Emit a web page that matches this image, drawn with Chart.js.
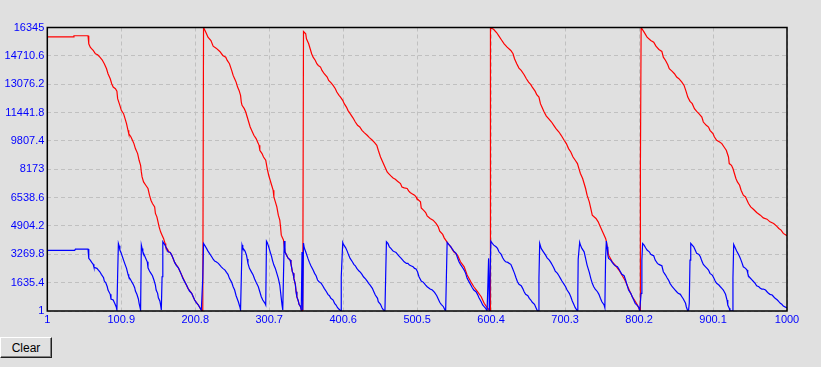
<!DOCTYPE html>
<html>
<head>
<meta charset="utf-8">
<script src="https://cdn.jsdelivr.net/npm/chart.js@4.4.1/dist/chart.umd.min.js"></script>
<style>
  html, body { margin: 0; padding: 0; background: #e0e0e0; width: 821px; height: 367px; overflow: hidden; }
  #wrap { position: absolute; left: 0; top: 0; width: 821px; height: 335px; }
  #clear {
    position: absolute; left: 0; top: 337px; width: 52px; height: 21px;
    margin: 0; padding: 0; background: #e0e0e0; color: #000;
    font: 12px "Liberation Sans", Arial, sans-serif;
    border-top: 1px solid #fff; border-left: 1px solid #fff;
    border-right: 1px solid #202020; border-bottom: 1px solid #202020;
    box-shadow: inset -1px -1px 0 #808080;
  }
</style>
</head>
<body>
<div id="wrap"><canvas id="plot" width="821" height="335"></canvas></div>
<button id="clear">Clear</button>
<script>
// tick labels as shown on the axes
const xTickLabels = ['1', '100.9', '200.8', '300.7', '400.6', '500.5', '600.4', '700.3', '800.2', '900.1', '1000'];
const yTickLabels = ['1', '1635.4', '3269.8', '4904.2', '6538.6', '8173', '9807.4', '11441.8', '13076.2', '14710.6', '16345'];

// red series [x, y]
const redLine = [
  [1,15810],[36,15810],[37,15868],[56,15868],[57,15407],[59,15211],[61,15118],[63,15021],[66,14831],[69,14773],
  [72,14636],[75,14486],[78,14256],[81,13968],[83,13680],[86,13393],[88,13105],[90,12909],[93,12817],[95,12679],
  [96,12242],[99,11856],[101,11568],[104,11378],[106,11091],[108,10803],[110,10417],[111,10228],[114,10032],[116,9842],
  [118,9652],[120,9364],[123,9077],[125,8691],[127,8403],[128,8018],[129,7730],[131,7442],[134,7252],[137,7062],
  [139,6677],[141,6389],[143,6199],[146,6003],[147,5624],[149,5428],[150,5238],[152,4852],[154,4565],[156,4375],
  [158,4185],[160,3897],[161,3701],[164,3512],[165,3414],[167,3379],
  [169,3224],[173,2804],[178,2493],[182,2113],[187,1653],[191,1307],[196,1020],[200,634],[205,346],[209,59],[211,1],
  [212,16345],[214,16172],[216,15983],[218,15787],[222,15597],[225,15269],[229,15154],[234,14964],[238,14734],[242,14636],
  [244,14446],[247,14256],[250,13871],[252,13583],[254,13393],[256,13197],[258,12909],[260,12720],[262,12432],[263,12046],
  [264,11856],[267,11666],[269,11471],[271,11183],[273,10895],[275,10607],[278,10320],[280,10130],[283,9940],[285,9744],
  [287,9554],[288,9267],[291,9077],[293,8881],[296,8691],[298,8213],[300,7828],[302,7540],[304,7252],[306,6965],
  [307,6579],[309,6291],[311,6003],[313,5526],[315,5238],[316,4852],[317,4375],[319,4185],[320,4087],
  [322,3414],[324,3224],[326,3068],[329,2936],[330,2746],[332,2263],[333,2171],[334,1883],[336,1538],[337,1112],
  [338,824],[340,577],[341,387],[343,248],[344,59],[346,1],
  [347,16115],[350,15983],[351,15695],[354,15407],[356,15119],[358,14831],[360,14636],[363,14446],[365,14256],[367,14158],
  [370,14061],[372,13871],[375,13680],[379,13485],[381,13295],[384,13163],[387,13007],[390,12817],[392,12622],[395,12432],
  [397,12334],[400,12144],[402,11954],[405,11758],[407,11569],[410,11378],[414,11125],[417,10895],[420,10705],[423,10608],
  [426,10418],[429,10285],[433,10130],[436,9997],[440,9842],[443,9710],[446,9554],[448,9267],[451,8881],[454,8593],
  [457,8306],[460,8018],[462,7926],[465,7787],[468,7672],[471,7598],[474,7483],[478,7350],[480,7154],[483,7097],
  [487,7062],[489,6924],[491,6832],[493,6775],[497,6677],[499,6579],[500,6487],[505,6291],[506,5946],[509,5814],
  [512,5681],[514,5486],[518,5336],[522,5238],[526,5048],[529,4852],[531,4605],[535,4415],[537,4219],[540,4030],
  [542,3897],[546,3701],[550,3414],[555,3224],[559,2838],[564,2550],[568,2073],[573,1687],[577,1399],[582,1112],
  [587,824],[591,444],[595,191],[598,59],[599,1],[599,8213],
  [600,16345],[604,16230],[608,16040],[611,15845],[614,15655],[618,15407],[622,15211],[627,15021],[630,14831],[632,14544],
  [635,14256],[638,14003],[641,13871],[645,13623],[648,13393],[651,13197],[654,13047],[656,12909],[660,12662],[662,12472],
  [665,12334],[667,11954],[669,11758],[672,11471],[675,11241],[678,11091],[682,10895],[685,10705],[688,10515],[692,10320],
  [695,10130],[699,9842],[702,9652],[705,9364],[708,9168],[711,8881],[714,8691],[717,8501],[719,8213],[721,7926],
  [724,7638],[726,7350],[728,7062],[730,6677],[733,6291],[735,5911],[737,5526],[742,5336],[745,5140],[747,4950],
  [750,4663],[752,4473],[755,4185],[756,4030],[759,3224],[764,2838],[768,2648],[773,2361],[777,2073],[781,1785],
  [784,1497],[788,1112],[791,824],[794,634],[798,346],[800,156],[801,59],[802,1],[802,8213],
  [803,16345],[807,16075],[811,15787],[816,15597],[820,15499],[823,15269],[827,15079],[831,14964],[833,14636],[836,14446],
  [839,14198],[841,13968],[845,13813],[848,13680],[851,13485],[854,13393],[858,13197],[861,13007],[864,12622],[866,12334],
  [869,12086],[872,11954],[875,11666],[878,11511],[881,11378],[885,11183],[887,10895],[891,10705],[894,10608],[896,10418],
  [900,10228],[902,10032],[905,9842],[909,9744],[912,9652],[915,9457],[918,9267],[921,8881],[922,8501],[925,8403],
  [927,8213],[929,7926],[931,7638],[933,7442],[936,7252],[938,6965],[941,6677],[944,6579],[946,6389],[948,6199],
  [951,6003],[955,5854],[959,5681],[964,5526],[968,5370],[973,5296],[977,5140],[982,5048],[986,4893],[989,4760],
  [992,4663],[995,4473],[1000,4334]
];

// blue series [x, y]
const blueLine = [
  [1,3494],[38,3494],[39,3569],[56,3569],[57,3034],[59,2936],[61,2804],[63,2689],[64,2516],[68,2458],
  [70,2361],[72,2263],[74,2113],[77,1917],[78,1727],[80,1630],[82,1399],[83,1210],[86,962],[87,692],
  [90,634],[92,444],[94,248],[95,59],[96,2073],[97,3897],[98,3759],[99,3512],[101,3322],[102,3184],
  [104,2936],[106,2689],[108,2458],[110,2113],[111,1975],[113,1843],[115,1687],[117,1538],[119,1342],[120,1152],
  [122,962],[124,692],[125,444],[127,59],[128,3799],[129,3609],[130,3414],[132,3224],[134,3034],[136,2838],
  [137,2493],[139,2303],[141,2171],[143,2033],[145,1785],[147,1497],[148,1210],[150,1020],[151,766],[153,577],
  [154,346],[155,59],[156,1975],[157,3989],[160,3799],[162,3609],[164,3414],[167,3379],[169,3224],[171,3034],
  [173,2804],[175,2648],[178,2493],[180,2303],[182,2113],[184,1883],[187,1653],[189,1497],[191,1307],[193,1152],
  [196,1020],[198,824],[200,634],[202,502],[205,346],[207,191],[209,59],[211,1917],[212,3897],[214,3759],
  [216,3609],[218,3454],[220,3322],[223,3126],[225,2994],[227,2879],[229,2838],[232,2746],[234,2648],[236,2550],
  [238,2458],[241,2361],[243,2228],[245,2113],[247,1883],[250,1653],[252,1399],[254,1210],[256,882],[259,536],
  [261,248],[262,59],[263,1883],[264,3799],[265,3644],[268,3454],[270,3224],[271,2994],[272,2746],[274,2458],
  [277,2228],[279,2073],[281,1843],[283,1653],[286,1399],[288,1112],[290,824],[292,634],[295,444],[296,346],
  [297,4030],[298,3955],[300,3701],[302,3414],[304,3126],[305,2936],[307,2648],[309,2458],[311,2171],[313,1883],
  [315,1497],[316,1112],[317,732],[318,346],[319,59],[320,2073],[321,4030],[322,3414],[324,3224],[326,3068],
  [329,2936],[330,2746],[332,2263],[333,2171],[334,1883],[336,1538],[337,1112],[338,824],[340,577],[341,387],
  [343,248],[344,59],[345,3397],[346,59],[347,3914],[348,3644],[350,3414],[353,3034],[355,2804],[357,2608],
  [360,2361],[362,2171],[364,2033],[366,1785],[368,1687],[371,1595],[373,1457],[375,1307],[378,1112],[380,962],
  [382,882],[384,732],[387,634],[389,444],[391,346],[393,191],[396,59],[398,1],[398,1975],[400,3955],
  [401,3840],[404,3644],[406,3454],[408,3224],[410,3034],[413,2838],[415,2689],[417,2608],[419,2458],[422,2303],
  [424,2228],[426,2113],[428,1975],[431,1843],[433,1727],[435,1595],[437,1497],[440,1307],[442,1112],[444,922],
  [447,732],[448,536],[451,387],[453,191],[455,59],[457,1],[458,2033],[459,3989],[461,3897],[463,3701],
  [465,3609],[468,3454],[470,3414],[472,3379],[474,3264],[477,3126],[479,3034],[481,2936],[483,2838],[486,2746],
  [488,2746],[490,2648],[492,2608],[495,2550],[497,2458],[499,2418],[501,2263],[503,1975],[506,1727],[509,1653],
  [512,1497],[514,1399],[518,1267],[521,1210],[524,1077],[527,882],[529,692],[531,502],[533,387],[536,248],
  [538,59],[539,1],[540,1975],[541,3955],[544,3799],[546,3701],[548,3569],[550,3454],[553,3322],[555,3068],
  [557,2838],[559,2689],[562,2493],[564,2361],[566,2171],[568,1883],[571,1653],[573,1497],[575,1342],[577,1210],
  [580,1112],[582,962],[584,766],[587,536],[589,346],[591,248],[593,156],[595,1],[596,1],[597,3034],
  [598,1],[600,4030],[602,3897],[604,3799],[607,3701],[609,3609],[611,3414],[614,3264],[616,3068],[618,2936],
  [620,2838],[623,2804],[625,2746],[627,2689],[629,2493],[632,2171],[634,1917],[636,1687],[638,1538],[641,1457],
  [643,1307],[645,1112],[647,962],[650,882],[652,732],[654,634],[656,502],[659,387],[661,191],[663,1],
  [664,1],[665,1883],[666,3897],[668,3609],[671,3414],[674,3224],[676,3068],[679,2936],[681,2804],[683,2648],
  [685,2493],[687,2303],[690,2171],[692,2033],[694,1883],[696,1727],[699,1538],[701,1399],[703,1210],[706,1020],
  [708,824],[710,577],[712,387],[714,191],[717,1],[717.5,1077],[718,2994],[720,3955],[721,3799],[723,3609],
  [726,3414],[728,3034],[730,2648],[733,2228],[735,1883],[737,1595],[739,1399],[741,1267],[744,1112],[746,962],
  [748,732],[750,536],[753,346],[754,191],[755,3034],[756,4030],[757,3701],[758,3224],[759,3034],[762,2936],
  [764,2804],[766,2689],[768,2608],[771,2550],[773,2418],[775,2263],[777,2113],[780,2033],[782,1785],[784,1497],
  [786,1210],[789,1020],[791,824],[793,634],[795,444],[798,306],[800,191],[801,1],[803,1020],[804,2936],
  [805,3897],[807,3799],[809,3644],[811,3512],[814,3414],[816,3264],[818,3224],[820,3184],[822,2936],[825,2746],
  [827,2689],[829,2648],[831,2608],[833,2263],[836,2073],[838,1917],[840,1785],[842,1595],[845,1399],[847,1307],
  [849,1210],[851,1112],[853,1020],[856,962],[858,824],[860,692],[863,444],[864,248],[866,1],[867,1],
  [868,444],[869,2936],[870,3897],[872,3799],[874,3701],[876,3512],[878,3322],[881,3264],[883,3126],[885,2879],
  [887,2689],[890,2550],[892,2458],[894,2361],[896,2171],[899,2073],[901,1917],[903,1727],[905,1595],[908,1497],
  [910,1399],[912,1307],[914,1210],[917,962],[919,634],[920,346],[922,156],[923,1],[926,1],[927,1883],
  [928,3840],[930,3644],[932,3454],[935,3224],[937,3034],[939,2804],[941,2550],[944,2458],[946,2361],[947,2171],
  [948,2033],[950,1917],[953,1785],[955,1687],[957,1595],[959,1457],[962,1399],[964,1307],[966,1267],[968,1267],
  [971,1210],[973,1112],[975,1020],[977,962],[980,922],[982,824],[984,732],[987,634],[989,536],[991,444],
  [993,387],[995,288],[1000,174]
];

const xTicks = xTickLabels.map(parseFloat);
const yTicks = yTickLabels.map(parseFloat);

// black frame round the plot area
const frame = {
  id: 'frame',
  afterDraw(chart) {
    const a = chart.chartArea, ctx = chart.ctx;
    ctx.save();
    ctx.strokeStyle = '#000';
    ctx.lineWidth = 1.5;
    ctx.strokeRect(a.left, a.top, a.right - a.left, a.bottom - a.top);
    ctx.restore();
  }
};

Chart.defaults.font.family = '"Liberation Sans", Arial, sans-serif';

const ctx = document.getElementById('plot').getContext('2d');

new Chart(ctx, {
  type: 'line',
  data: {
    datasets: [
      {
        data: blueLine.map(p => ({ x: p[0], y: p[1] })),
        borderColor: '#0000ff',
        borderWidth: 1.2,
        pointRadius: 0,
        tension: 0,
        fill: false
      },
      {
        data: redLine.map(p => ({ x: p[0], y: p[1] })),
        borderColor: '#ff0000',
        borderWidth: 1.2,
        pointRadius: 0,
        tension: 0,
        fill: false
      }
    ]
  },
  options: {
    responsive: false,
    animation: false,
    devicePixelRatio: 1,
    layout: { padding: { top: 27.5, right: 34, left: 0, bottom: 0 } },
    plugins: {
      legend: { display: false },
      tooltip: { enabled: false }
    },
    scales: {
      x: {
        type: 'linear',
        min: 1,
        max: 1000,
        afterBuildTicks: (s) => { s.ticks = xTicks.map(v => ({ value: v })) },
        afterFit: (s) => { s.height = 24 },
        grid: { color: '#c0c0c0', drawTicks: false },
        border: { display: false, dash: [4, 3] },
        ticks: {
          color: '#0000ff',
          font: { size: 11 },
          padding: 2,
          autoSkip: false,
          maxRotation: 0,
          callback: (v, i) => xTickLabels[i]
        }
      },
      y: {
        type: 'linear',
        min: 1,
        max: 16345,
        afterBuildTicks: (s) => { s.ticks = yTicks.map(v => ({ value: v })) },
        afterFit: (s) => { s.width = 47.3 },
        grid: { color: '#c0c0c0', drawTicks: false },
        border: { display: false, dash: [4, 3] },
        ticks: {
          color: '#0000ff',
          font: { size: 11 },
          padding: 3,
          autoSkip: false,
          callback: (v, i) => yTickLabels[i]
        }
      }
    }
  },
  plugins: [frame]
});
</script>
</body>
</html>
